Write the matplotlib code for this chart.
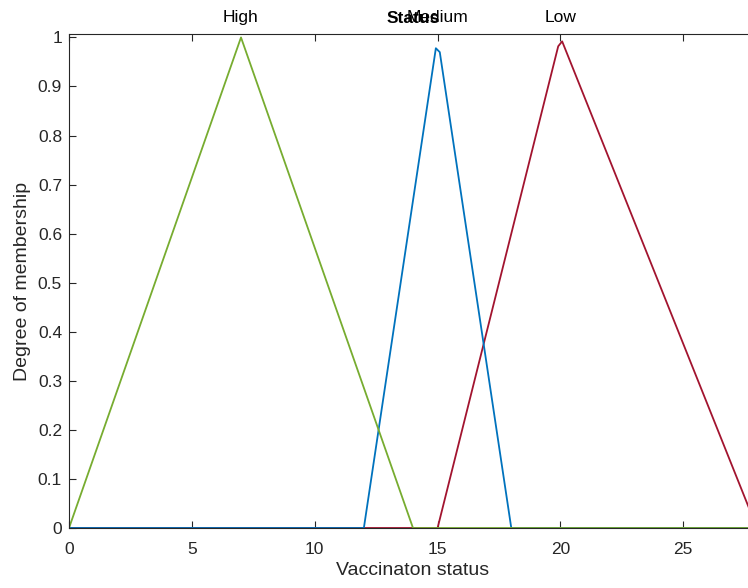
import matplotlib
matplotlib.use("Agg")
import matplotlib.pyplot as plt

plt.rcParams['font.family'] = ['Liberation Sans', 'DejaVu Sans']

# membership function vertices (x, degree), as sampled on 0..28
high_x = [0, 7, 14, 28]
high_y = [0, 1.0, 0, 0]
medium_x = [0, 12, 14.93, 15.09, 18, 28]
medium_y = [0, 0, 0.978, 0.970, 0, 0]
low_x = [0, 15, 19.91, 20.07, 28]
low_y = [0, 0, 0.982, 0.992, 0]

mf_names = ['High', 'Medium', 'Low']
mf_peaks = [7, 15, 20]

c_blue = (0.0, 0.447, 0.741)
c_red = (0.635, 0.078, 0.184)
c_green = (0.466, 0.674, 0.188)
txt = (0.15, 0.15, 0.15)

W, H = 748, 588
fig = plt.figure(figsize=(W / 100, H / 100), dpi=100)
ax = fig.add_axes([69 / W, (H - 528) / H, (757 - 69) / W, (528 - 34) / H])

ax.plot(low_x, low_y, color=c_red, lw=1.3)
ax.plot(medium_x, medium_y, color=c_blue, lw=1.3)
ax.plot(high_x, high_y, color=c_green, lw=1.3)

ax.set_xlim(0, 28)
ax.set_ylim(0, 1.007)
ax.set_xticks([0, 5, 10, 15, 20, 25])
ax.set_yticks([i / 10 for i in range(11)])
ax.set_yticklabels(['0'] + [f'{i / 10:.1f}' for i in range(1, 10)] + ['1'])
ax.tick_params(direction='in', length=5, width=0.8, colors=txt,
               labelsize=12.5, top=True, right=False)
ax.tick_params(axis='x', pad=10)
ax.tick_params(axis='y', pad=5)
for side in ['left', 'bottom', 'top']:
    ax.spines[side].set_color(txt)
    ax.spines[side].set_linewidth(0.8)
ax.spines['right'].set_visible(False)

ax.set_xlabel('Vaccinaton status', fontsize=14, color=txt, labelpad=4)
ax.set_ylabel('Degree of membership', fontsize=14, color=txt, labelpad=5)

for name, pk in zip(mf_names, mf_peaks):
    ax.text(pk, 1.025, name, ha='center', va='bottom', fontsize=12.5, color='black')
ax.set_title('Status', fontsize=12.5, fontweight='bold', pad=8)

fig.savefig('out.png', dpi=100)
